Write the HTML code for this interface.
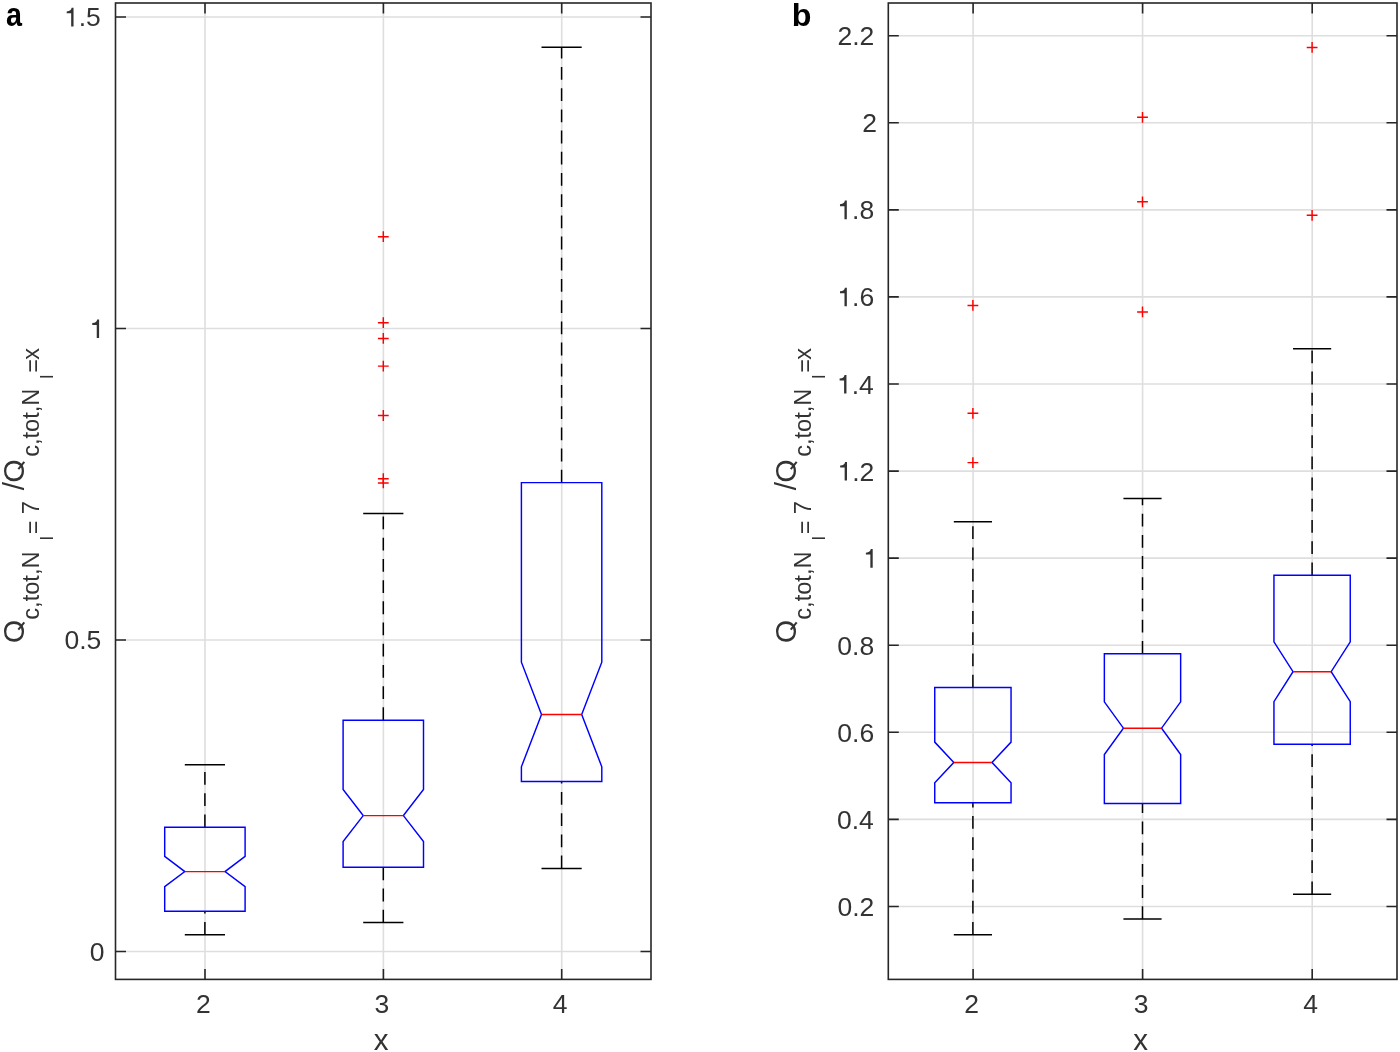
<!DOCTYPE html><html><head><meta charset="utf-8"><style>html,body{margin:0;padding:0;background:#fff;overflow:hidden}svg{display:block;will-change:transform}text{font-family:"Liberation Sans",sans-serif}</style></head><body>
<svg width="1400" height="1052" viewBox="0 0 1400 1052">
<rect width="1400" height="1052" fill="#fff"/>
<g stroke="#dedede" stroke-width="1.6" fill="none">
<line x1="115.5" y1="951.5" x2="651" y2="951.5"/>
<line x1="115.5" y1="640" x2="651" y2="640"/>
<line x1="115.5" y1="328.5" x2="651" y2="328.5"/>
<line x1="115.5" y1="17" x2="651" y2="17"/>
<line x1="205" y1="3" x2="205" y2="979.4"/>
<line x1="383.4" y1="3" x2="383.4" y2="979.4"/>
<line x1="561.7" y1="3" x2="561.7" y2="979.4"/>
</g>
<g stroke="#000" stroke-width="1.5" fill="none">
<line x1="204.9" y1="934.7" x2="204.9" y2="911.3" stroke-dasharray="12.8 8.4"/>
<line x1="204.9" y1="827.2" x2="204.9" y2="764.8" stroke-dasharray="12.8 8.4"/>
<line x1="184.8" y1="764.8" x2="225" y2="764.8"/>
<line x1="184.8" y1="934.7" x2="225" y2="934.7"/>
</g>
<polygon points="164.7,911.3 164.7,886.6 184.8,871.6 164.7,856.4 164.7,827.2 245.1,827.2 245.1,856.4 225,871.6 245.1,886.6 245.1,911.3" fill="none" stroke="#0000ff" stroke-width="1.45" stroke-linejoin="miter"/>
<line x1="184.8" y1="871.6" x2="225" y2="871.6" stroke="#ff0000" stroke-width="1.45"/>
<g stroke="#000" stroke-width="1.5" fill="none">
<line x1="383.3" y1="922.6" x2="383.3" y2="867.3" stroke-dasharray="12.8 8.4"/>
<line x1="383.3" y1="720.15" x2="383.3" y2="513.4" stroke-dasharray="12.8 8.4"/>
<line x1="363.2" y1="513.4" x2="403.4" y2="513.4"/>
<line x1="363.2" y1="922.6" x2="403.4" y2="922.6"/>
</g>
<polygon points="343.1,867.3 343.1,841.6 363.2,815.6 343.1,789.5 343.1,720.15 423.5,720.15 423.5,789.5 403.4,815.6 423.5,841.6 423.5,867.3" fill="none" stroke="#0000ff" stroke-width="1.45" stroke-linejoin="miter"/>
<line x1="363.2" y1="815.6" x2="403.4" y2="815.6" stroke="#ff0000" stroke-width="1.45"/>
<g stroke="#ff0000" stroke-width="1.45">
<path d="M377.9 236.7H388.7M383.3 231.3V242.1"/>
<path d="M377.9 322.7H388.7M383.3 317.3V328.1"/>
<path d="M377.9 338.4H388.7M383.3 333V343.8"/>
<path d="M377.9 366.1H388.7M383.3 360.7V371.5"/>
<path d="M377.9 415.5H388.7M383.3 410.1V420.9"/>
<path d="M377.9 478.7H388.7M383.3 473.3V484.1"/>
<path d="M377.9 482.9H388.7M383.3 477.5V488.3"/>
</g>
<g stroke="#000" stroke-width="1.5" fill="none">
<line x1="561.6" y1="868.4" x2="561.6" y2="781.5" stroke-dasharray="12.8 8.4"/>
<line x1="561.6" y1="482.6" x2="561.6" y2="47.3" stroke-dasharray="12.8 8.4"/>
<line x1="541.5" y1="47.3" x2="581.7" y2="47.3"/>
<line x1="541.5" y1="868.4" x2="581.7" y2="868.4"/>
</g>
<polygon points="521.4,781.5 521.4,766.8 541.5,714.5 521.4,662.2 521.4,482.6 601.8,482.6 601.8,662.2 581.7,714.5 601.8,766.8 601.8,781.5" fill="none" stroke="#0000ff" stroke-width="1.45" stroke-linejoin="miter"/>
<line x1="541.5" y1="714.5" x2="581.7" y2="714.5" stroke="#ff0000" stroke-width="1.45"/>
<g stroke="#262626" stroke-width="1.6" fill="none">
<rect x="115.5" y="3" width="535.5" height="976.4"/>
<path d="M115.5 951.5h10.5M651 951.5h-10.5M115.5 640h10.5M651 640h-10.5M115.5 328.5h10.5M651 328.5h-10.5M115.5 17h10.5M651 17h-10.5M205 979.4v-10.5M205 3v10.5M383.4 979.4v-10.5M383.4 3v10.5M561.7 979.4v-10.5M561.7 3v10.5"/>
</g>
<text x="89.7" y="960.82" style="font-size:26.5px;" fill="#333333">0</text>
<text x="64.52" y="649.32" style="font-size:26.5px;" fill="#333333">0.5</text>
<path transform="translate(89.59,338.01) scale(0.02650)" d="M270 0H359V-703H287C270 -625 230 -575 101 -566V-494H270Z" fill="#333333"/>
<text x="89.59" y="338.01" style="font-size:26.5px;" fill="#333333"> </text>
<path transform="translate(64.02,26.39) scale(0.02650)" d="M270 0H359V-703H287C270 -625 230 -575 101 -566V-494H270Z" fill="#333333"/>
<text x="64.02" y="26.39" style="font-size:26.5px;" fill="#333333"> .5</text>
<text x="196.03" y="1013.3" style="font-size:26.5px;" fill="#333333">2</text>
<text x="374.51" y="1013.04" style="font-size:26.5px;" fill="#333333">3</text>
<text x="552.82" y="1013.3" style="font-size:26.5px;" fill="#333333">4</text>
<text x="373.82" y="1049.7" style="font-size:29.5px;" fill="#333333">x</text>
<g transform="rotate(-90)" fill="#333333">
<text x="-643.13" y="23.93" style="font-size:30.2px">O</text>
<path d="M-629.54 18.34L-622.44 24.29" stroke="#333333" stroke-width="2.05" fill="none"/>
<text x="-619.7" y="38.8" style="font-size:23.6px">c,tot,N</text>
<text x="-540.23" y="53" style="font-size:18.3px">l</text>
<text x="-534.15" y="40.6" style="font-size:23.6px">=</text>
<text x="-514.21" y="38.8" style="font-size:23.6px">7</text>
<text x="-490.3" y="24" style="font-size:29.7px">/</text>
<text x="-482.63" y="23.93" style="font-size:30.2px">O</text>
<path d="M-469.04 18.34L-461.94 24.29" stroke="#333333" stroke-width="2.05" fill="none"/>
<text x="-456.8" y="38.8" style="font-size:23.6px">c,tot,N</text>
<text x="-378.63" y="53" style="font-size:18.3px">l</text>
<text x="-372.75" y="40.6" style="font-size:23.6px">=</text>
<text x="-359.67" y="38.8" style="font-size:23.6px">x</text>
</g>
<g stroke="#dedede" stroke-width="1.6" fill="none">
<line x1="888.3" y1="906.45" x2="1397" y2="906.45"/>
<line x1="888.3" y1="819.38" x2="1397" y2="819.38"/>
<line x1="888.3" y1="732.3" x2="1397" y2="732.3"/>
<line x1="888.3" y1="645.23" x2="1397" y2="645.23"/>
<line x1="888.3" y1="558.15" x2="1397" y2="558.15"/>
<line x1="888.3" y1="471.08" x2="1397" y2="471.08"/>
<line x1="888.3" y1="384" x2="1397" y2="384"/>
<line x1="888.3" y1="296.92" x2="1397" y2="296.92"/>
<line x1="888.3" y1="209.85" x2="1397" y2="209.85"/>
<line x1="888.3" y1="122.77" x2="1397" y2="122.77"/>
<line x1="888.3" y1="35.7" x2="1397" y2="35.7"/>
<line x1="973.1" y1="3" x2="973.1" y2="979.4"/>
<line x1="1142.6" y1="3" x2="1142.6" y2="979.4"/>
<line x1="1312.2" y1="3" x2="1312.2" y2="979.4"/>
</g>
<g stroke="#000" stroke-width="1.5" fill="none">
<line x1="972.9" y1="934.8" x2="972.9" y2="802.7" stroke-dasharray="12.8 8.4"/>
<line x1="972.9" y1="687.5" x2="972.9" y2="521.7" stroke-dasharray="12.8 8.4"/>
<line x1="953.82" y1="521.7" x2="991.98" y2="521.7"/>
<line x1="953.82" y1="934.8" x2="991.98" y2="934.8"/>
</g>
<polygon points="934.75,802.7 934.75,782.7 953.82,762.4 934.75,742.1 934.75,687.5 1011.05,687.5 1011.05,742.1 991.98,762.4 1011.05,782.7 1011.05,802.7" fill="none" stroke="#0000ff" stroke-width="1.45" stroke-linejoin="miter"/>
<line x1="953.82" y1="762.4" x2="991.98" y2="762.4" stroke="#ff0000" stroke-width="1.45"/>
<g stroke="#ff0000" stroke-width="1.45">
<path d="M967.5 305.4H978.3M972.9 300V310.8"/>
<path d="M967.5 413.3H978.3M972.9 407.9V418.7"/>
<path d="M967.5 462.6H978.3M972.9 457.2V468"/>
</g>
<g stroke="#000" stroke-width="1.5" fill="none">
<line x1="1142.5" y1="919.1" x2="1142.5" y2="803.4" stroke-dasharray="12.8 8.4"/>
<line x1="1142.5" y1="653.7" x2="1142.5" y2="498.4" stroke-dasharray="12.8 8.4"/>
<line x1="1123.42" y1="498.4" x2="1161.58" y2="498.4"/>
<line x1="1123.42" y1="919.1" x2="1161.58" y2="919.1"/>
</g>
<polygon points="1104.35,803.4 1104.35,754.6 1123.42,728.2 1104.35,701.8 1104.35,653.7 1180.65,653.7 1180.65,701.8 1161.58,728.2 1180.65,754.6 1180.65,803.4" fill="none" stroke="#0000ff" stroke-width="1.45" stroke-linejoin="miter"/>
<line x1="1123.42" y1="728.2" x2="1161.58" y2="728.2" stroke="#ff0000" stroke-width="1.45"/>
<g stroke="#ff0000" stroke-width="1.45">
<path d="M1137.1 117.3H1147.9M1142.5 111.9V122.7"/>
<path d="M1137.1 201.8H1147.9M1142.5 196.4V207.2"/>
<path d="M1137.1 311.9H1147.9M1142.5 306.5V317.3"/>
</g>
<g stroke="#000" stroke-width="1.5" fill="none">
<line x1="1312.1" y1="894.3" x2="1312.1" y2="744.3" stroke-dasharray="12.8 8.4"/>
<line x1="1312.1" y1="575.2" x2="1312.1" y2="348.7" stroke-dasharray="12.8 8.4"/>
<line x1="1293.02" y1="348.7" x2="1331.17" y2="348.7"/>
<line x1="1293.02" y1="894.3" x2="1331.17" y2="894.3"/>
</g>
<polygon points="1273.95,744.3 1273.95,701.6 1293.02,671.7 1273.95,641.8 1273.95,575.2 1350.25,575.2 1350.25,641.8 1331.17,671.7 1350.25,701.6 1350.25,744.3" fill="none" stroke="#0000ff" stroke-width="1.45" stroke-linejoin="miter"/>
<line x1="1293.02" y1="671.7" x2="1331.17" y2="671.7" stroke="#ff0000" stroke-width="1.45"/>
<g stroke="#ff0000" stroke-width="1.45">
<path d="M1306.7 47.4H1317.5M1312.1 42V52.8"/>
<path d="M1306.7 215.3H1317.5M1312.1 209.9V220.7"/>
</g>
<g stroke="#262626" stroke-width="1.6" fill="none">
<rect x="888.3" y="3" width="508.7" height="976.4"/>
<path d="M888.3 906.45h10.5M1397 906.45h-10.5M888.3 819.38h10.5M1397 819.38h-10.5M888.3 732.3h10.5M1397 732.3h-10.5M888.3 645.23h10.5M1397 645.23h-10.5M888.3 558.15h10.5M1397 558.15h-10.5M888.3 471.08h10.5M1397 471.08h-10.5M888.3 384h10.5M1397 384h-10.5M888.3 296.92h10.5M1397 296.92h-10.5M888.3 209.85h10.5M1397 209.85h-10.5M888.3 122.77h10.5M1397 122.77h-10.5M888.3 35.7h10.5M1397 35.7h-10.5M973.1 979.4v-10.5M973.1 3v10.5M1142.6 979.4v-10.5M1142.6 3v10.5M1312.2 979.4v-10.5M1312.2 3v10.5"/>
</g>
<text x="837.49" y="915.77" style="font-size:26.5px;" fill="#333333">0.2</text>
<text x="836.94" y="828.7" style="font-size:26.5px;" fill="#333333">0.4</text>
<text x="837.33" y="741.62" style="font-size:26.5px;" fill="#333333">0.6</text>
<text x="837.31" y="654.55" style="font-size:26.5px;" fill="#333333">0.8</text>
<path transform="translate(863.19,567.66) scale(0.02650)" d="M270 0H359V-703H287C270 -625 230 -575 101 -566V-494H270Z" fill="#333333"/>
<text x="863.19" y="567.66" style="font-size:26.5px;" fill="#333333"> </text>
<path transform="translate(837.49,480.59) scale(0.02650)" d="M270 0H359V-703H287C270 -625 230 -575 101 -566V-494H270Z" fill="#333333"/>
<text x="837.49" y="480.59" style="font-size:26.5px;" fill="#333333"> .2</text>
<path transform="translate(836.94,393.51) scale(0.02650)" d="M270 0H359V-703H287C270 -625 230 -575 101 -566V-494H270Z" fill="#333333"/>
<text x="836.94" y="393.51" style="font-size:26.5px;" fill="#333333"> .4</text>
<path transform="translate(837.33,306.31) scale(0.02650)" d="M270 0H359V-703H287C270 -625 230 -575 101 -566V-494H270Z" fill="#333333"/>
<text x="837.33" y="306.31" style="font-size:26.5px;" fill="#333333"> .6</text>
<path transform="translate(837.31,219.24) scale(0.02650)" d="M270 0H359V-703H287C270 -625 230 -575 101 -566V-494H270Z" fill="#333333"/>
<text x="837.31" y="219.24" style="font-size:26.5px;" fill="#333333"> .8</text>
<text x="862.19" y="132.23" style="font-size:26.5px;" fill="#333333">2</text>
<text x="837.49" y="45.15" style="font-size:26.5px;" fill="#333333">2.2</text>
<text x="964.13" y="1013.3" style="font-size:26.5px;" fill="#333333">2</text>
<text x="1133.71" y="1013.04" style="font-size:26.5px;" fill="#333333">3</text>
<text x="1303.32" y="1013.3" style="font-size:26.5px;" fill="#333333">4</text>
<text x="1133.22" y="1049.7" style="font-size:29.5px;" fill="#333333">x</text>
<g transform="rotate(-90)" fill="#333333">
<text x="-643.13" y="796.33" style="font-size:30.2px">O</text>
<path d="M-629.54 790.74L-622.44 796.69" stroke="#333333" stroke-width="2.05" fill="none"/>
<text x="-619.7" y="811.2" style="font-size:23.6px">c,tot,N</text>
<text x="-540.23" y="825.4" style="font-size:18.3px">l</text>
<text x="-534.15" y="813" style="font-size:23.6px">=</text>
<text x="-514.21" y="811.2" style="font-size:23.6px">7</text>
<text x="-490.3" y="796.4" style="font-size:29.7px">/</text>
<text x="-482.63" y="796.33" style="font-size:30.2px">O</text>
<path d="M-469.04 790.74L-461.94 796.69" stroke="#333333" stroke-width="2.05" fill="none"/>
<text x="-456.8" y="811.2" style="font-size:23.6px">c,tot,N</text>
<text x="-378.63" y="825.4" style="font-size:18.3px">l</text>
<text x="-372.75" y="813" style="font-size:23.6px">=</text>
<text x="-359.67" y="811.2" style="font-size:23.6px">x</text>
</g>
<g transform="translate(14.45,0) scale(0.89,1) translate(-14.45,0)">
<text x="4.89" y="25.58" style="font-size:32.3px;font-weight:bold;" fill="#000">a</text>
</g>
<g transform="translate(802.1,0) scale(1.05,1) translate(-802.1,0)">
<text x="792.34" y="25.7" style="font-size:30.7px;font-weight:bold;" fill="#000">b</text>
</g>
</svg></body></html>
